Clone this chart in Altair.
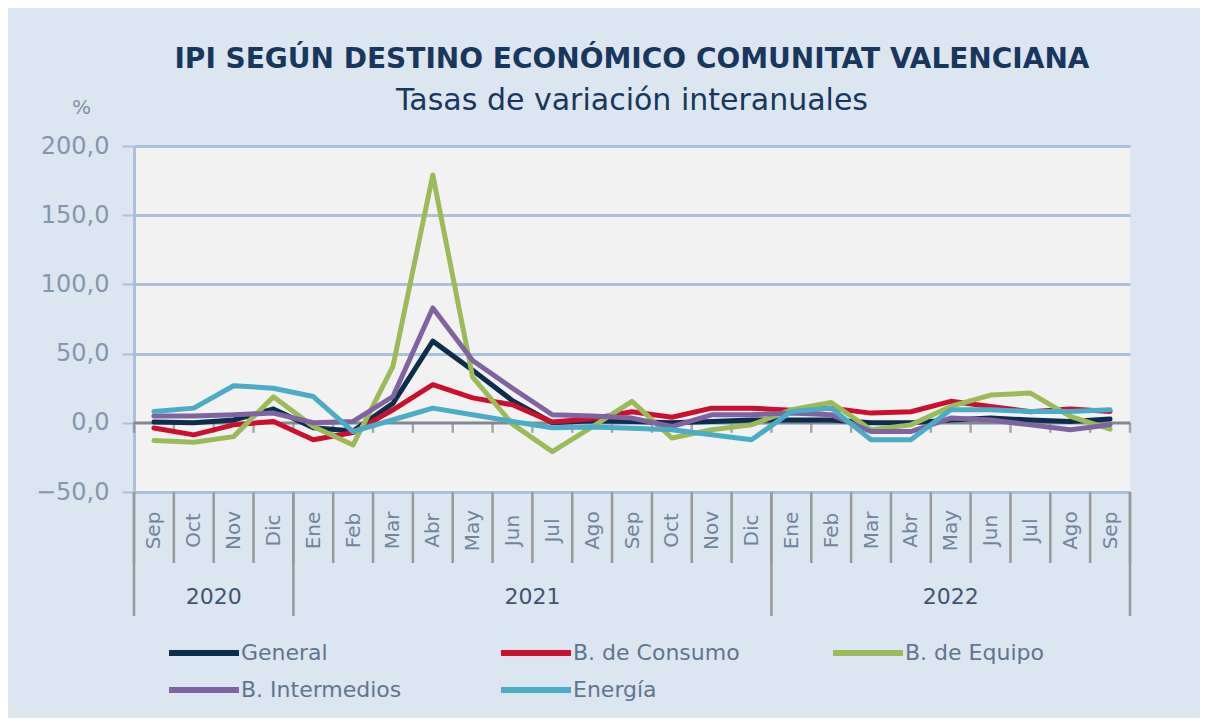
import altair as alt
import pandas as pd

# ---- data ----
months = ["Sep", "Oct", "Nov", "Dic", "Ene", "Feb", "Mar", "Abr", "May", "Jun", "Jul", "Ago",
          "Sep", "Oct", "Nov", "Dic", "Ene", "Feb", "Mar", "Abr", "May", "Jun", "Jul", "Ago", "Sep"]
years = ["2020", "2021", "2022"]
year_start = [0, 4, 16]
year_end = [4, 16, 25]

series_names = ["General", "B. de Consumo", "B. de Equipo", "B. Intermedios", "Energía"]
general = [0.5, 0, 2, 10, -3.6, -6, 14, 59, 38, 16, 0, 1.5, 1, 0, 1, 2, 2, 2, 0, 0, 2, 3.4, 2, 1, 2.7]
consumo = [-3.7, -8.7, -1.5, 1, -12.3, -7, 9.4, 27.5, 18, 13, 0.5, 3, 8, 4, 10.6, 10.6, 9, 10.6, 7, 8,
           15.5, 11.8, 8, 10, 8.2]
equipo = [-12.8, -14, -10, 18.8, -2.7, -16, 40.8, 179, 33, -1, -20.8, -3, 15.5, -11, -5, -1.5, 9.4, 14.7,
          -5, -1.5, 11.8, 20, 21.5, 4.6, -4.6]
intermedios = [5, 5, 5.8, 7, 0, 1, 19, 83, 45, 25, 5.8, 5, 3.4, -2.7, 5.8, 5.8, 7, 5.8, -6.3, -6.3,
               3.4, 2, -1.5, -5, -1.5]
energia = [8.2, 10.6, 26.8, 25, 19, -6.3, 2.2, 10.6, 5.8, 1, -3.6, -3, -3.9, -5, -8.7, -12.3, 8.2, 10.6,
           -12.3, -12.3, 9.4, 9.4, 8.2, 8.2, 9.4]
series_values = [general, consumo, equipo, intermedios, energia]
series_colors = ["#0c2d4e", "#cc0f2f", "#9bbb59", "#8064a2", "#4bacc6"]
y_ticks = [-50, 0, 50, 100, 150, 200]

# ---- styling ----
FONT = "DejaVu Sans"
W, H = 996, 346
n = len(months)

rows = []
for name, vals in zip(series_names, series_values):
    for i, v in enumerate(vals):
        rows.append({"serie": name, "xpos": i + 0.5, "value": v, "ord": i})
df = pd.DataFrame(rows)

bounds = pd.DataFrame({"b": list(range(n + 1))})
ybounds = pd.DataFrame({"b": sorted(set(year_start + year_end))})
ylab = pd.DataFrame({"year": years, "pos": [(s + e) / 2 for s, e in zip(year_start, year_end)]})
zero = pd.DataFrame({"y": [0]})

month_js = "[" + ",".join("'%s'" % m for m in months) + "]"
xscale = alt.Scale(domain=[0, n], nice=False, zero=False)
xaxis = alt.Axis(values=[i + 0.5 for i in range(n)],
                 labelExpr=month_js + "[floor(datum.value)]",
                 labelAngle=270, labelAlign="center", labelBaseline="middle",
                 ticks=False, tickSize=0, domain=False, grid=False,
                 labelPadding=38, labelFontSize=20, labelFont=FONT, labelColor="#6f849e",
                 labelOverlap=False, labelFlush=False, title=None)
yscale = alt.Scale(domain=[-50, 200], nice=False, zero=False)
yaxis = alt.Axis(values=y_ticks,
                 labelExpr="replace(format(datum.value, '.1f'), '.', ',')",
                 grid=True, gridColor="#a9c0de", gridWidth=3,
                 domainColor="#a9c0de", domainWidth=3,
                 tickColor="#a9c0de", tickSize=12, tickWidth=2,
                 labelFont=FONT, labelFontSize=24, labelColor="#8497b0", labelPadding=13,
                 title="%", titleAngle=0, titleX=-53, titleY=-39, titleAlign="center",
                 titleBaseline="middle", titleFontSize=20, titleFontWeight="normal",
                 titleColor="#7f8fa6", titleFont=FONT)

zero_rule = alt.Chart(zero).mark_rule(color="#888888", strokeWidth=2.5).encode(
    y=alt.Y("y:Q", scale=yscale, axis=yaxis))

zero_ticks = alt.Chart(bounds).mark_tick(orient="vertical", size=10, yOffset=5, color="#888888",
                                          thickness=2.5).encode(
    x=alt.X("b:Q", scale=xscale, axis=xaxis),
    y=alt.datum(0, scale=yscale))

sep_month = alt.Chart(bounds).mark_rule(color="#999999", strokeWidth=2.5).encode(
    x=alt.X("b:Q", scale=xscale, axis=xaxis),
    y=alt.value(H), y2=alt.value(H + 71))

sep_year = alt.Chart(ybounds).mark_rule(color="#999999", strokeWidth=2.5).encode(
    x=alt.X("b:Q", scale=xscale, axis=xaxis),
    y=alt.value(H), y2=alt.value(H + 124))

year_text = alt.Chart(ylab).mark_text(font=FONT, fontSize=22, color="#3d5573",
                                       baseline="middle", align="center").encode(
    x=alt.X("pos:Q", scale=xscale, axis=xaxis),
    y=alt.value(H + 105),
    text="year:N")

lines = alt.Chart(df).mark_line(strokeWidth=5, strokeJoin="round", strokeCap="round").encode(
    x=alt.X("xpos:Q", scale=xscale, axis=xaxis),
    y=alt.Y("value:Q", scale=yscale, axis=yaxis),
    color=alt.Color("serie:N", scale=alt.Scale(domain=series_names, range=series_colors),
                    legend=alt.Legend(title=None, orient="none", legendX=59, legendY=496,
                                      direction="horizontal", columns=3, columnPadding=81,
                                      rowPadding=13, gridAlign="all",
                                      symbolType="M-5,0H5", symbolSize=196, symbolStrokeWidth=6,
                                      labelFont=FONT, labelFontSize=22, labelColor="#5f7590",
                                      labelOffset=26, labelLimit=400)),
    order="ord:Q",
    detail="serie:N")

chart = alt.layer(zero_rule, zero_ticks, sep_month, sep_year, year_text, lines).properties(
    width=W, height=H,
    title=alt.TitleParams(
        text="IPI SEGÚN DESTINO ECONÓMICO COMUNITAT VALENCIANA",
        subtitle="Tasas de variación interanuales",
        font=FONT, fontSize=28, fontWeight="bold", color="#17375e",
        subtitleFont=FONT, subtitleFontSize=30, subtitleColor="#17375e",
        subtitlePadding=12, anchor="middle", offset=-19),
    autosize=alt.AutoSizeParams(type="none"),
    padding={"left": 126, "top": 138, "right": 70, "bottom": 226},
    background="#dce6f1",
).configure_view(fill="#f2f2f2", strokeWidth=0)

chart.save("out.html", embed_options={"renderer": "svg", "actions": False})
